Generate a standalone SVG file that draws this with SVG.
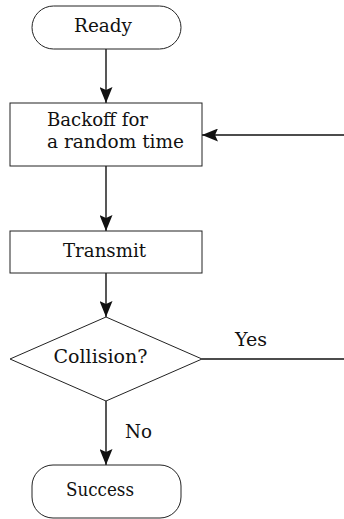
<svg xmlns="http://www.w3.org/2000/svg" width="344" height="519" viewBox="0 0 344 519">
  <style>
    .shape { fill: #ffffff; stroke: #222222; stroke-width: 1; }
    .edge { fill: none; stroke: #111111; stroke-width: 1.4; }
    .lbl { font-family: "DejaVu Serif", "Liberation Serif", serif; font-size: 19px; fill: #111111; }
  </style>
  <defs>
    <marker id="arrow" viewBox="0 0 16 13" refX="16" refY="6.5" markerWidth="16" markerHeight="13" markerUnits="userSpaceOnUse" orient="auto">
      <path d="M0,0 L16,6.5 L0,13 L3,6.5 Z" fill="#111111"/>
    </marker>
  </defs>

  <g id="connectors">
    <line class="edge" x1="106" y1="49" x2="106" y2="103" marker-end="url(#arrow)"/>
    <line class="edge" x1="106" y1="166" x2="106" y2="231" marker-end="url(#arrow)"/>
    <line class="edge" x1="106" y1="273" x2="106" y2="317" marker-end="url(#arrow)"/>
    <line class="edge" x1="106" y1="401" x2="106" y2="465" marker-end="url(#arrow)"/>
    <line class="edge" x1="202" y1="359" x2="344" y2="359"/>
    <line class="edge" x1="344" y1="135" x2="202" y2="135" marker-end="url(#arrow)"/>
    <text class="lbl" x="235" y="346" textLength="32" lengthAdjust="spacingAndGlyphs">Yes</text>
    <text class="lbl" x="125" y="438" textLength="27" lengthAdjust="spacingAndGlyphs">No</text>
  </g>

  <g id="ready">
    <rect class="shape" x="32" y="6" width="149" height="43" rx="21.5" ry="21.5"/>
    <text class="lbl" x="74" y="32" textLength="58" lengthAdjust="spacingAndGlyphs">Ready</text>
  </g>

  <g id="backoff">
    <rect class="shape" x="10" y="103" width="192" height="63"/>
    <text class="lbl" x="47" y="126" textLength="101" lengthAdjust="spacingAndGlyphs">Backoff for</text>
    <text class="lbl" x="47" y="147.5" textLength="137" lengthAdjust="spacingAndGlyphs">a random time</text>
  </g>

  <g id="transmit">
    <rect class="shape" x="10" y="231" width="192" height="42"/>
    <text class="lbl" x="63" y="257" textLength="83" lengthAdjust="spacingAndGlyphs">Transmit</text>
  </g>

  <g id="collision">
    <polygon class="shape" points="106,317 202,359 106,401 10,359"/>
    <text class="lbl" x="53.5" y="363" textLength="94" lengthAdjust="spacingAndGlyphs">Collision?</text>
  </g>

  <g id="success">
    <rect class="shape" x="32" y="465" width="149" height="53" rx="21" ry="21"/>
    <text class="lbl" x="66" y="496" textLength="68" lengthAdjust="spacingAndGlyphs">Success</text>
  </g>
</svg>
